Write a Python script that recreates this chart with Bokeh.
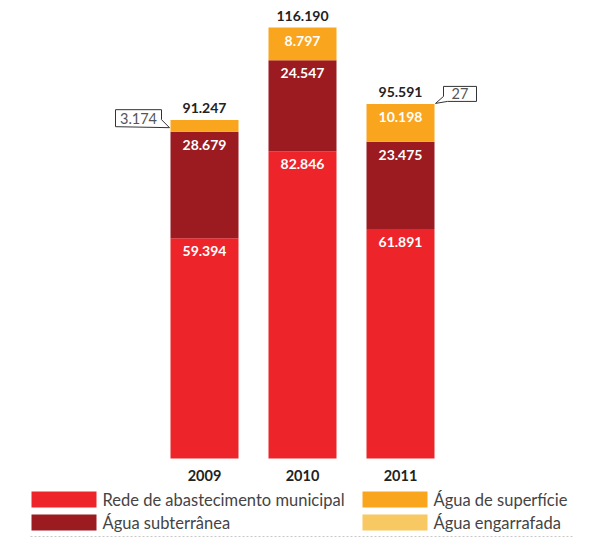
from bokeh.plotting import figure
from bokeh.models import Range1d, ColumnDataSource
from bokeh.core.properties import value
from bokeh.embed import file_html
from bokeh.resources import INLINE

# ---------------- data ----------------
years = [2009, 2010, 2011]
year_labels = ["2009", "2010", "2011"]
rede = [59394, 82846, 61891]
subterranea = [28679, 24547, 23475]
superficie = [3174, 8797, 10198]
engarrafada = [0, 0, 27]
totals = [91247, 116190, 95591]
series_keys = ["rede", "subterranea", "superficie", "engarrafada"]
series_names = ["Rede de abastecimento municipal", "Água subterrânea",
                "Água de superfície", "Água engarrafada"]
colors = ["#EE242B", "#9B1B20", "#F9A51E", "#F8C862"]

# ---------------- layout ----------------
FONT = "Lato"
W, H = 595, 537
BASE_PX, TOP_PX = 458, 27
PX_PER_YEAR = 98
ppu = (BASE_PX - TOP_PX) / max(totals)
y_start = -(H - BASE_PX) / ppu
y_end = BASE_PX / ppu
x_start = years[0] - 204 / PX_PER_YEAR
x_end = x_start + W / PX_PER_YEAR
bar_w = 68 / PX_PER_YEAR


def dpx_y(n):
    return n / ppu


def dpx_x(n):
    return n / PX_PER_YEAR


def img_x(px):
    return x_start + px / PX_PER_YEAR


def img_y(py):
    return (BASE_PX - py) / ppu


def fmt(v):
    return f"{v:,}".replace(",", ".")


p = figure(width=W, height=H, x_range=Range1d(x_start, x_end),
           y_range=Range1d(y_start, y_end), output_backend="svg",
           toolbar_location=None, x_axis_location=None, y_axis_location=None,
           min_border=0, outline_line_color=None)
for g in p.grid:
    g.visible = False
p.background_fill_color = "white"
p.border_fill_color = "white"

src = ColumnDataSource(dict(x=years, rede=rede, subterranea=subterranea,
                            superficie=superficie, engarrafada=engarrafada))
rends = p.vbar_stack(series_keys, x="x", width=bar_w, source=src,
                     fill_color=colors, line_color=None)

# in-bar labels
lx, ly, lt = [], [], []
series_vals = [rede, subterranea, superficie]
for i, yr in enumerate(years):
    cum = 0
    for s, vals in enumerate(series_vals):
        cum += vals[i]
        if vals[i] / max(totals) * (BASE_PX - TOP_PX) > 20:
            lx.append(yr)
            ly.append(cum - dpx_y(13))
            lt.append(fmt(vals[i]))
p.text(x=lx, y=ly, text=lt, text_color="white", text_font=value(FONT),
       text_font_size="14px", text_font_style="bold", text_align="center",
       text_baseline="middle")

# totals
p.text(x=years, y=[t + dpx_y(12) for t in totals], text=[fmt(t) for t in totals],
       text_color="#222222", text_font=value(FONT), text_font_size="14px",
       text_font_style="bold", text_align="center", text_baseline="middle")

# years
p.text(x=years, y=[img_y(475)] * 3, text=year_labels,
       text_color="#222222", text_font=value(FONT), text_font_size="14.5px",
       text_font_style="bold", text_align="center", text_baseline="middle")

# callout 2009 superficie
tx = years[0] - bar_w / 2 - dpx_x(1)
ty = rede[0] + subterranea[0] + superficie[0] * 0.35
L, R = tx - dpx_x(54), tx - dpx_x(8)
T, B = ty + dpx_y(18), ty + dpx_y(1)
p.patch([L, R, R, tx, L], [T, T, ty + dpx_y(8), ty, B], fill_color="white",
        line_color="#333333", line_width=1)
p.text(x=[(L + R) / 2], y=[(T + B) / 2], text=[fmt(superficie[0])],
       text_color="#555555", text_font=value(FONT), text_font_size="14.5px",
       text_align="center", text_baseline="middle")

# callout 2011 engarrafada
tx = years[2] + bar_w / 2 + dpx_x(1)
ty = totals[2] + dpx_y(0.5)
L, R = tx + dpx_x(8), tx + dpx_x(41)
T, B = ty + dpx_y(17), ty + dpx_y(2)
p.patch([L, R, R, L + dpx_x(4), tx, L], [T, T, B, B, ty, ty + dpx_y(7)],
        fill_color="white", line_color="#333333", line_width=1)
p.text(x=[(L + R) / 2], y=[(T + B) / 2], text=[fmt(engarrafada[2])],
       text_color="#555555", text_font=value(FONT), text_font_size="14.5px",
       text_align="center", text_baseline="middle")

# legend (drawn manually in a 2x2 grid)
col_left = [31, 362]
row_top = [491, 514]
sw_w, sw_h, standoff = 65, 16, 6
qx0, qx1, qy0, qy1, tx_, ty_, tt = [], [], [], [], [], [], []
for k, name in enumerate(series_names):
    c, r = (0 if k in (0, 1) else 1), (0 if k in (0, 2) else 1)
    qx0.append(img_x(col_left[c]))
    qx1.append(img_x(col_left[c] + sw_w))
    qy0.append(img_y(row_top[r] + sw_h))
    qy1.append(img_y(row_top[r]))
    tx_.append(img_x(col_left[c] + sw_w + standoff))
    ty_.append(img_y(row_top[r] + sw_h / 2))
    tt.append(name)
p.quad(left=qx0, right=qx1, bottom=qy0, top=qy1, fill_color=colors,
       line_color=None)
p.text(x=tx_, y=ty_, text=tt, text_color="#444444", text_font=value(FONT),
       text_font_size="16.5px", text_align="left", text_baseline="middle")

# dotted separator under the legend
p.segment(x0=[img_x(30)], y0=[img_y(536)], x1=[img_x(574)], y1=[img_y(536)],
          line_color="#C8C8C8", line_width=1, line_dash="2 2")

open("out.html", "w").write(file_html(p, INLINE))
